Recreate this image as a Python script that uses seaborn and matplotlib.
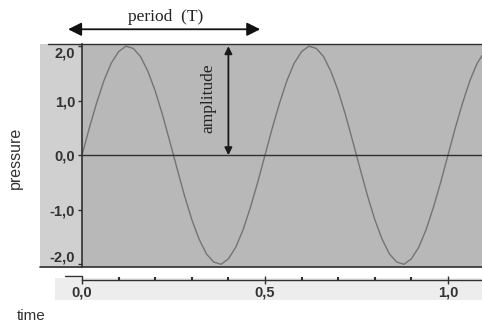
import matplotlib
matplotlib.use("Agg")
import matplotlib.pyplot as plt
from matplotlib.patches import Rectangle
from matplotlib.lines import Line2D
from matplotlib.ticker import MultipleLocator
import seaborn as sns
import pandas as pd

# ---- data (amplitude 2.0, period 0.5) ----
time = [0.00, 0.02, 0.04, 0.06, 0.08, 0.10, 0.12, 0.14, 0.16, 0.18,
        0.20, 0.22, 0.24, 0.26, 0.28, 0.30, 0.32, 0.34, 0.36, 0.38,
        0.40, 0.42, 0.44, 0.46, 0.48, 0.50, 0.52, 0.54, 0.56, 0.58,
        0.60, 0.62, 0.64, 0.66, 0.68, 0.70, 0.72, 0.74, 0.76, 0.78,
        0.80, 0.82, 0.84, 0.86, 0.88, 0.90, 0.92, 0.94, 0.96, 0.98,
        1.00, 1.02, 1.04, 1.06, 1.08, 1.10]
pressure = [0.00, 0.50, 0.96, 1.37, 1.69, 1.90, 2.00, 1.96, 1.81, 1.54,
            1.18, 0.74, 0.25, -0.25, -0.74, -1.18, -1.54, -1.81, -1.96, -2.00,
            -1.90, -1.69, -1.37, -0.96, -0.50, 0.00, 0.50, 0.96, 1.37, 1.69,
            1.90, 2.00, 1.96, 1.81, 1.54, 1.18, 0.74, 0.25, -0.25, -0.74,
            -1.18, -1.54, -1.81, -1.96, -2.00, -1.90, -1.69, -1.37, -0.96, -0.50,
            0.00, 0.50, 0.96, 1.37, 1.69, 1.90]
y_ticks = [2.0, 1.0, 0.0, -1.0, -2.0]
y_tick_labels = ["2,0", "1,0", "0,0", "-1,0", "-2,0"]
x_ticks = [0.0, 0.5, 1.0]
x_tick_labels = ["0,0", "0,5", "1,0"]
amplitude = 2.0
period = 0.5
amp_x = 0.40
period_start = -0.038

df = pd.DataFrame({"time": time, "pressure": pressure})

sns.set_style("white")
plt.rcParams["font.family"] = ["Liberation Sans", "DejaVu Sans"]
SERIF = ["Liberation Serif", "DejaVu Serif"]

W, H = 482, 324
fig = plt.figure(figsize=(W / 100, H / 100), dpi=100)

def fx(px):
    return px / W

def fy(py):
    return 1 - py / H

# left tick-label panel and x tick-label band (behind everything)
fig.patches.append(Rectangle((fx(40), fy(268)), fx(42), (268 - 44) / H,
                             transform=fig.transFigure, facecolor="#d0d0d0",
                             edgecolor="none", zorder=-5))
fig.patches.append(Rectangle((fx(55), fy(300)), fx(W - 55), 22 / H,
                             transform=fig.transFigure, facecolor="#ededed",
                             edgecolor="none", zorder=-5))

ax = fig.add_axes([fx(82), fy(267), fx(W - 82), (267 - 44) / H])
ax.set_facecolor("#b8b8b8")

sns.lineplot(data=df, x="time", y="pressure", ax=ax, color="#747474",
             linewidth=1.0)

ax.set_xlim(0, 1.093)
ax.set_ylim(-2.05, 2.04)

ax.axhline(0, color="#303030", linewidth=1.0)

for s in ["top", "right"]:
    ax.spines[s].set_visible(False)
ax.spines["left"].set_color("#303030")
ax.spines["left"].set_linewidth(1.2)
ax.spines["bottom"].set_position(("outward", 9))
ax.spines["bottom"].set_color("#303030")
ax.spines["bottom"].set_linewidth(1.0)

ax.set_yticks(y_ticks)
ax.set_yticklabels(y_tick_labels, fontweight="bold", fontsize=10.5, color="#333333")
ylabs = ax.get_yticklabels()
ylabs[0].set_va("top")
ylabs[-1].set_va("bottom")
ax.set_xticks(x_ticks)
ax.set_xticklabels(x_tick_labels, fontweight="bold", fontsize=10.5, color="#333333")
ax.xaxis.set_minor_locator(MultipleLocator(0.1))
ax.tick_params(axis="y", which="major", direction="out", length=3, width=1,
               color="#303030", pad=2, left=True)
ax.tick_params(axis="x", which="major", direction="inout", length=6, width=1,
               color="#303030", pad=1, bottom=True)
ax.tick_params(axis="x", which="minor", direction="in", length=2, width=1.5,
               color="#303030", bottom=True)
ax.set_xlabel("")
ax.set_ylabel("")

# border lines of the grey area (top and bottom)
fig.lines.append(Line2D([fx(48), fx(W)], [fy(44), fy(44)], transform=fig.transFigure,
                        color="#303030", linewidth=1.0))
fig.lines.append(Line2D([fx(40), fx(W)], [fy(266.5), fy(266.5)], transform=fig.transFigure,
                        color="#303030", linewidth=1.2))
fig.lines.append(Line2D([fx(65), fx(82)], [fy(276), fy(276)], transform=fig.transFigure,
                        color="#303030", linewidth=1.0))

# amplitude arrow
ax.annotate("", xy=(amp_x, amplitude), xytext=(amp_x, 0.0),
            arrowprops=dict(arrowstyle="<|-|>", color="#1a1a1a", lw=1.3,
                            mutation_scale=11, shrinkA=0, shrinkB=0))
ax.text(amp_x - 0.056, amplitude / 2 + 0.05, "amplitude", rotation=90,
        family=SERIF, fontsize=12.5,
        ha="center", va="center", color="#222222")

# period arrow
ax.annotate("", xy=(period_start, 2.31), xytext=(period_start + period + 0.025, 2.31),
            xycoords="data", annotation_clip=False,
            arrowprops=dict(arrowstyle="<|-|>", color="#111111", lw=1.3,
                            mutation_scale=20, shrinkA=0, shrinkB=0))
ax.text(period_start + (period + 0.025) / 2 + 0.003, 2.53, "period  (T)",
        family=SERIF, fontsize=12.5,
        ha="center", va="center", color="#222222", clip_on=False)

fig.text(fx(15), fy(158), "pressure", rotation=90, ha="center", va="center",
         fontsize=11.5, color="#333333")
fig.text(fx(31), fy(316), "time", ha="center", va="center",
         fontsize=11, color="#333333")

fig.savefig("out.png", dpi=100)
